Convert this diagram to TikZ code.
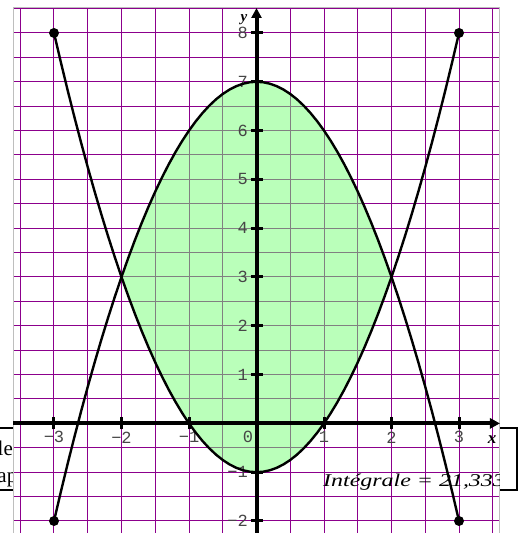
\documentclass[tikz,border=0pt]{standalone}
\usepackage{fontspec}
\setmainfont{Liberation Serif}
\setmonofont{Liberation Mono}
\usetikzlibrary{arrows.meta, positioning}
\definecolor{gridviolet}{RGB}{140,0,140}
\definecolor{areagreen}{RGB}{119,255,119}
\definecolor{framegray}{RGB}{190,190,190}
\definecolor{labelgray}{RGB}{70,70,70}

\begin{document}
\begin{tikzpicture}[
  x=67.5pt, y=48.8pt,
  gridline/.style={draw=gridviolet, line width=1pt},
  axis/.style={line width=4pt, -{Triangle[length=10pt, width=10pt]}},
  tickmark/.style={line width=3pt},
  curve/.style={line width=2.4pt, line join=round},
  dot/.style={circle, fill, inner sep=0pt, minimum size=10pt},
  ticklab/.style={font=\fontsize{17}{17}\selectfont\ttfamily, text=labelgray, inner sep=0pt},
  varlab/.style={font=\fontsize{17}{17}\selectfont\bfseries\itshape, inner sep=0pt},
  boxtext/.style={font=\fontsize{18}{18}\selectfont, inner sep=0pt}
]
\useasboundingbox (-3.8,-2.246) rectangle (3.948,8.676);

% text boxes behind the graph
\draw[line width=2pt] (-4.3,-0.094) rectangle (-3.3,-1.365);
\node[boxtext, font=\fontsize{21}{21}\selectfont, anchor=base east] (lefttop) at (-3.607,-0.66) {le};
\node[boxtext, font=\fontsize{21}{21}\selectfont, anchor=base west] (leftbot) at (-3.84,-1.22) {ap};
\draw[line width=2pt] (1.0,-0.094) rectangle (3.852,-1.365);

% graph area
\fill[white] (-3.607,-2.4) rectangle (3.607,8.512);
\draw[gridline, step=0.5] (-3.607,-2.4) grid (3.607,8.512);
\draw[framegray, line width=1pt] (-3.607,-2.4) rectangle (3.607,8.512);
\fill[areagreen, fill opacity=0.5]
  plot[domain=-2:2, samples=41] (\x,{7-\x*\x})
  -- plot[domain=2:-2, samples=41] (\x,{\x*\x-1}) -- cycle;

% axes
\draw[axis] (-3.607,0) -- (3.607,0);
\draw[axis] (0,-2.4) -- (0,8.512);
\foreach \v/\t in {-3/−3, -2/−2, -1/−1, 1/1, 2/2, 3/3} {
  \draw[tickmark] (\v,0) ++(0,-6pt) -- ++(0,12pt);
  \node[ticklab, yshift=-14pt] (xl\v) at (\v,0) {\t};
}
\foreach \v/\t in {-2/−2, -1/−1, 1/1, 2/2, 3/3, 4/4, 5/5, 6/6, 7/7, 8/8} {
  \draw[tickmark] (0,\v) ++(-6pt,0) -- ++(12pt,0);
  \node[ticklab, anchor=east, xshift=-8.5pt] (yl\v) at (0,\v) {\t};
}
\node[ticklab, xshift=-8.5pt, yshift=-14pt] (origin) at (0,0) {0};
\node[varlab] (xname) at (3.489,-0.34) {x};
\node[varlab, font=\fontsize{15}{15}\selectfont\bfseries\itshape] (yname) at (-0.185,8.266) {y};

% the two parabolas
\node[dot] (topleft) at (-3,8) {};
\node[dot] (topright) at (3,8) {};
\node[dot] (botleft) at (-3,-2) {};
\node[dot] (botright) at (3,-2) {};
\draw[curve] plot[domain=-3:3, samples=61] (\x,{7-\x*\x});
\draw[curve] plot[domain=-3:3, samples=61] (\x,{\x*\x-1});

% value of the integral, cut at the frame
\begin{scope}
\clip (-3.607,-2.4) rectangle (3.607,8.512);
\node[boxtext, anchor=base west] (integral) at (0.985,-1.303)
  {\itshape\scalebox{1.33}[1]{Intégrale = 21,333}};
\end{scope}
\end{tikzpicture}
\end{document}
